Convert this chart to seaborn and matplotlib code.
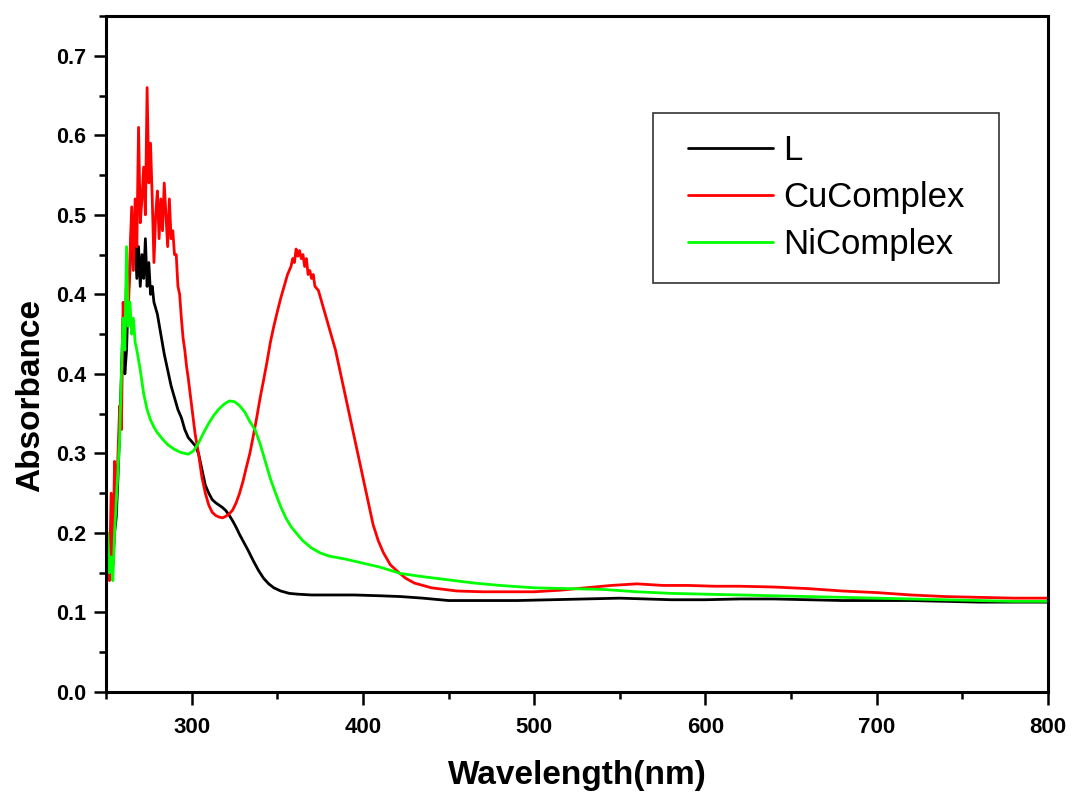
import pandas as pd
import matplotlib.pyplot as plt
import matplotlib.patches as mpatches
import seaborn as sns
from matplotlib.ticker import MultipleLocator

# Wavelength (nm) / absorbance (y in axis-position units)
l_wl = [251, 252, 253, 254, 255, 256, 257, 258, 259, 260, 261, 262, 263, 264, 265, 266, 267, 268, 269, 270,
        271, 272, 273, 274, 275, 276, 277, 278, 280, 282, 284, 286, 288, 290, 292, 294, 296, 298, 300, 302,
        304, 306, 308, 310, 312, 314, 316, 318, 320, 322, 324, 326, 328, 330, 333, 336, 339, 342, 345, 348,
        352, 357, 362, 370, 380, 395, 410, 422, 435, 450, 470, 490, 510, 530, 550, 565, 580, 600, 620, 640,
        660, 680, 700, 720, 740, 760, 780, 800]
l_abs = [0.195, 0.150, 0.175, 0.160, 0.200, 0.22, 0.27, 0.33, 0.40, 0.47, 0.40, 0.43, 0.50, 0.53, 0.59, 0.55, 0.57, 0.52, 0.56, 0.51,
         0.55, 0.52, 0.57, 0.51, 0.54, 0.50, 0.51, 0.49, 0.475, 0.45, 0.425, 0.405, 0.385, 0.37, 0.355, 0.345, 0.33, 0.32, 0.315, 0.31,
         0.30, 0.28, 0.26, 0.25, 0.242, 0.238, 0.235, 0.232, 0.228, 0.222, 0.215, 0.207, 0.198, 0.19, 0.178, 0.165, 0.153, 0.143, 0.136, 0.131,
         0.127, 0.124, 0.123, 0.122, 0.122, 0.122, 0.121, 0.120, 0.118, 0.115, 0.115, 0.115, 0.116, 0.117, 0.118, 0.117, 0.116, 0.116, 0.117, 0.117,
         0.116, 0.115, 0.115, 0.115, 0.114, 0.113, 0.113, 0.113]

cu_wl = [251, 252, 253, 254, 255, 256, 257, 258, 259, 260, 261, 262, 263, 264, 265, 266, 267, 268, 269, 270,
         271, 272, 273, 274, 275, 276, 277, 278, 279, 280, 281, 282, 283, 284, 285, 286, 287, 288, 289, 290,
         291, 292, 293, 294, 295, 296, 297, 298, 300, 302, 304, 306, 308, 310, 312, 314, 316, 318, 320, 322,
         324, 326, 328, 330, 332, 334, 336, 338, 340, 342, 344, 346, 348, 350, 352, 354, 356, 358, 359, 360,
         361, 362, 363, 364, 365, 366, 367, 368, 369, 370, 371, 372, 374, 376, 378, 380, 382, 384, 386, 388,
         390, 392, 394, 396, 398, 400, 403, 406, 409, 412, 416, 420, 425, 430, 440, 455, 470, 485, 500, 515,
         530, 545, 560, 575, 590, 605, 620, 640, 660, 680, 700, 720, 740, 760, 780, 800]
cu_abs = [0.18, 0.14, 0.25, 0.16, 0.29, 0.24, 0.30, 0.36, 0.33, 0.49, 0.45, 0.52, 0.47, 0.55, 0.61, 0.53, 0.62, 0.56, 0.71, 0.59,
          0.62, 0.66, 0.60, 0.76, 0.64, 0.69, 0.62, 0.54, 0.60, 0.63, 0.57, 0.62, 0.58, 0.64, 0.60, 0.56, 0.62, 0.57, 0.58, 0.55,
          0.55, 0.51, 0.50, 0.47, 0.445, 0.43, 0.41, 0.395, 0.36, 0.325, 0.30, 0.27, 0.25, 0.235, 0.226, 0.222, 0.220, 0.219, 0.221, 0.224,
          0.229, 0.238, 0.25, 0.265, 0.283, 0.30, 0.322, 0.345, 0.37, 0.392, 0.415, 0.44, 0.46, 0.478, 0.495, 0.51, 0.525, 0.535, 0.545, 0.54,
          0.557, 0.548, 0.555, 0.545, 0.55, 0.535, 0.545, 0.525, 0.53, 0.52, 0.525, 0.51, 0.505, 0.49, 0.475, 0.46, 0.445, 0.43, 0.41, 0.39,
          0.37, 0.35, 0.33, 0.31, 0.29, 0.27, 0.24, 0.21, 0.19, 0.175, 0.16, 0.152, 0.143, 0.137, 0.131, 0.127, 0.126, 0.126, 0.126, 0.128,
          0.131, 0.134, 0.136, 0.134, 0.134, 0.133, 0.133, 0.132, 0.130, 0.127, 0.125, 0.122, 0.120, 0.119, 0.118, 0.118]

ni_wl = [251, 252, 253, 254, 255, 256, 257, 258, 259, 260, 261, 262, 263, 264, 265, 266, 267, 268, 270, 272,
         274, 276, 278, 280, 283, 286, 290, 294, 298, 301, 304, 307, 310, 313, 316, 319, 322, 325, 328, 331,
         334, 337, 340, 343, 346, 349, 352, 355, 358, 361, 365, 370, 375, 380, 390, 400, 410, 422, 435, 450,
         465, 480, 500, 520, 540, 560, 580, 600, 620, 640, 660, 680, 700, 720, 740, 760, 780, 800]
ni_abs = [0.20, 0.15, 0.17, 0.14, 0.20, 0.24, 0.28, 0.32, 0.40, 0.47, 0.43, 0.56, 0.46, 0.49, 0.45, 0.47, 0.44, 0.43, 0.405, 0.375,
          0.355, 0.342, 0.333, 0.326, 0.318, 0.311, 0.305, 0.301, 0.299, 0.303, 0.313, 0.326, 0.338, 0.348, 0.356, 0.362, 0.366, 0.365, 0.36, 0.352,
          0.34, 0.33, 0.312, 0.29, 0.268, 0.25, 0.233, 0.219, 0.208, 0.2, 0.19, 0.181, 0.175, 0.171, 0.167, 0.162, 0.157, 0.149, 0.145, 0.141,
          0.137, 0.134, 0.131, 0.130, 0.129, 0.126, 0.124, 0.123, 0.122, 0.121, 0.120, 0.119, 0.118, 0.117, 0.116, 0.115, 0.114, 0.114]

series_names = ['L', 'CuComplex', 'NiComplex']
series_colors = ['#000000', '#ff0000', '#00ff00']
y_ticks = [0.0, 0.1, 0.2, 0.3, 0.4, 0.5, 0.6, 0.7, 0.8]
y_tick_labels = ['0.0', '0.1', '0.2', '0.3', '0.4', '0.4', '0.5', '0.6', '0.7']
x_ticks = [300, 400, 500, 600, 700, 800]

df = pd.concat([
    pd.DataFrame({'wl': l_wl, 'abs': l_abs, 'series': 'L'}),
    pd.DataFrame({'wl': cu_wl, 'abs': cu_abs, 'series': 'CuComplex'}),
    pd.DataFrame({'wl': ni_wl, 'abs': ni_abs, 'series': 'NiComplex'}),
])

sns.set_style('ticks')
plt.rcParams['font.family'] = ['Liberation Sans', 'DejaVu Sans']
plt.rcParams['text.color'] = 'black'
plt.rcParams['axes.labelcolor'] = 'black'
plt.rcParams['xtick.color'] = 'black'
plt.rcParams['ytick.color'] = 'black'

fig = plt.figure(figsize=(10.72, 7.96), dpi=100)
ax = fig.add_axes([106 / 1072, 104 / 796, 942 / 1072, 676 / 796])

sns.lineplot(data=df, x='wl', y='abs', hue='series', hue_order=series_names,
             palette=series_colors, estimator=None, sort=False, linewidth=2.0, ax=ax)

ax.set_xlim(250, 800)
ax.set_ylim(0, 0.85)
ax.set_xticks(x_ticks)
ax.xaxis.set_minor_locator(MultipleLocator(50))
ax.set_yticks(y_ticks)
ax.set_yticklabels(y_tick_labels)
ax.yaxis.set_minor_locator(MultipleLocator(0.05))

for s in ax.spines.values():
    s.set_visible(True)
    s.set_linewidth(2.2)
    s.set_color('black')
ax.tick_params(which='major', length=9, width=1.8, direction='out', top=False, right=False)
ax.tick_params(which='minor', length=5, width=1.8, direction='out', top=False, right=False)
ax.tick_params(axis='x', which='major', pad=9)
ax.tick_params(axis='y', which='major', pad=5)

for t in ax.get_xticklabels():
    t.set_fontsize(16)
    t.set_fontweight('bold')
for t in ax.get_yticklabels():
    t.set_fontsize(15.5)
    t.set_fontweight('bold')

ax.set_xlabel('Wavelength(nm)', fontsize=24, fontweight='bold', labelpad=16)
ax.set_ylabel('Absorbance', fontsize=24, fontweight='bold')
ax.yaxis.set_label_coords(-0.063, (692 - 395) / 676)

handles, labels = ax.get_legend_handles_labels()
leg = ax.legend(handles, labels, loc='upper left', bbox_to_anchor=((688 - 106) / 942, (692 - 134) / 676),
                frameon=False, fontsize=25, borderpad=0, borderaxespad=0, labelspacing=0.4,
                handlelength=2.45, handletextpad=0.3)
for line in leg.get_lines():
    line.set_linewidth(2.0)
ax.add_patch(mpatches.Rectangle(((653 - 106) / 942, (692 - 283) / 676), 346 / 942, 170 / 676,
                                transform=ax.transAxes, fill=False, edgecolor='#333333', linewidth=1.2))

fig.savefig('out.png', dpi=100)
